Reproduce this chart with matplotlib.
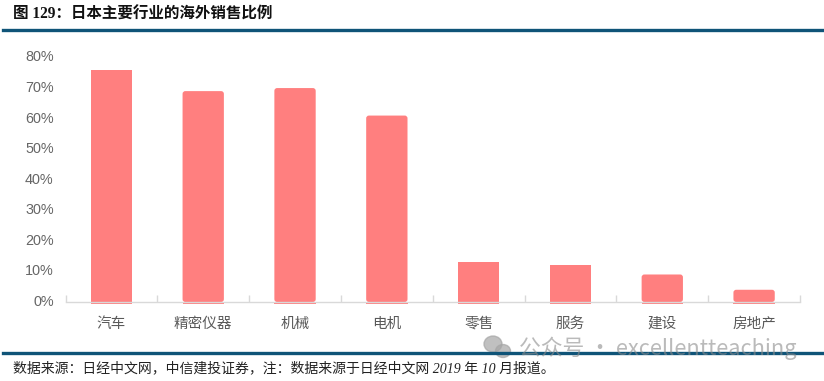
import matplotlib
matplotlib.use("Agg")
import matplotlib.pyplot as plt
from matplotlib.patches import Ellipse, FancyBboxPatch

categories = ["汽车", "精密仪器", "机械", "电机", "零售", "服务", "建设", "房地产"]
values = [76, 69, 70, 61, 13, 12, 9, 4]
y_ticks = [0, 10, 20, 30, 40, 50, 60, 70, 80]
rounded = [1, 2, 3, 6, 7]

cjk = "Noto Sans CJK SC"
W, H = 824, 381
navy = "#0f5478"
bar_color = "#ff7f7f"
label_color = "#595959"

fig = plt.figure(figsize=(W / 100, H / 100), dpi=100)
ax = fig.add_axes([65.5 / W, 1 - 302 / H, 734.5 / W, 244.5 / H])

x = list(range(len(categories)))
bars = ax.bar(x, values, width=0.45, color=bar_color, zorder=2, clip_on=False)
# bars run a touch below the baseline in the original
ax.bar(x, [-0.5] * len(x), width=0.45, color=bar_color, zorder=2, clip_on=False)

# some of the bars have slightly rounded tops
for i in rounded:
    b = bars[i]
    b.set_visible(False)
    ax.add_patch(FancyBboxPatch((b.get_x(), 0), b.get_width(), b.get_height(),
                                boxstyle="round,pad=0,rounding_size=0.03", mutation_aspect=30,
                                fc=bar_color, ec="none", zorder=2, clip_on=False))

ax.set_xlim(-0.5, len(categories) - 0.5)
ax.set_ylim(0, 80)
ax.set_yticks(y_ticks)
ax.set_yticklabels([f"{v}%" for v in y_ticks], fontfamily="Liberation Sans", fontsize=10.4, color="#666666")
ax.tick_params(axis="y", length=0, pad=8.5)
for label in ax.get_yticklabels():
    label.set_y(label.get_position()[1])
    label.set_verticalalignment("center")

ax.set_xticks([i - 0.5 for i in range(len(categories) + 1)])
ax.set_xticklabels([])
ax.tick_params(axis="x", length=5, width=1, color="#d9d9d9", direction="out")
for tick in ax.xaxis.get_major_ticks():
    tick.tick1line.set_marker(2)  # tick pointing up from the axis

for i, name in enumerate(categories):
    ax.annotate(name, (i, 0), xytext=(0, -15.5), textcoords="offset points", ha="center", va="center",
                fontfamily=cjk, fontsize=10.5, color=label_color)

for side in ["top", "right", "left"]:
    ax.spines[side].set_visible(False)
ax.spines["bottom"].set_color("#d9d9d9")
ax.spines["bottom"].set_linewidth(1)
ax.spines["bottom"].set_zorder(3)

# header and footer rules
fig.add_artist(plt.Line2D([3 / W, 1], [1 - 29.5 / H] * 2, color=navy, lw=2.4))
fig.add_artist(plt.Line2D([3 / W, 1], [1 - 353 / H] * 2, color=navy, lw=2.4))

fig.text(13 / W, 1 - 15 / H, "图 129：日本主要行业的海外销售比例", fontfamily=["Liberation Serif", cjk],
         fontweight="bold", fontsize=11.2, color="#111111", va="center", ha="left")
fig.text(13 / W, 1 - 368 / H, "数据来源：日经中文网，中信建投证券，注：数据来源于日经中文网 2019 年 10 月报道。",
         fontfamily=["Liberation Serif", cjk], style="italic", fontsize=10, color="#222222", va="center", ha="left")

# watermark
fig.text(519 / W, 1 - 348 / H, "公众号 · excellentteaching", fontfamily=[cjk, "DejaVu Sans"], fontsize=15.7,
         color="#8c8c8c", alpha=0.6, va="center", ha="left", zorder=5)
fig.add_artist(Ellipse((493 / W, 1 - 344 / H), 18 / W, 16 / H, color="#a6a6a6", alpha=0.7, transform=fig.transFigure))
fig.add_artist(Ellipse((503 / W, 1 - 351 / H), 15 / W, 13 / H, color="#a6a6a6", alpha=0.7, transform=fig.transFigure))

fig.savefig("out.png", dpi=100)
